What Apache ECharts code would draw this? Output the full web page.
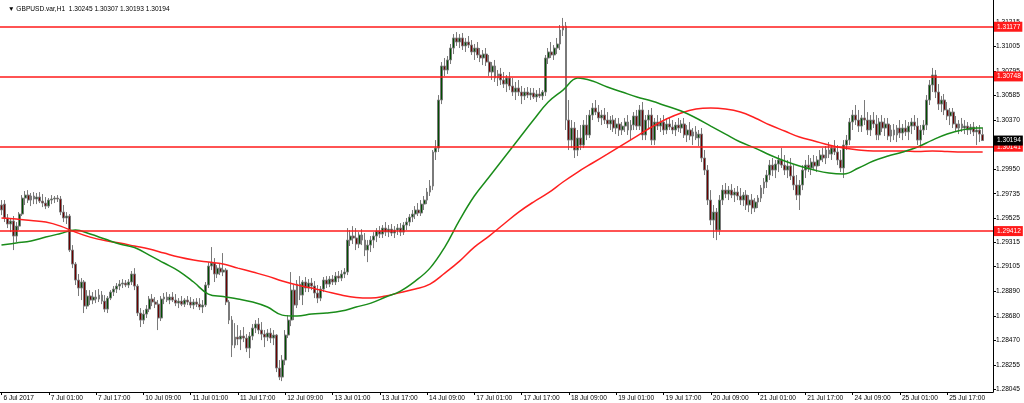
<!DOCTYPE html>
<html><head><meta charset="utf-8">
<script src="https://cdn.jsdelivr.net/npm/echarts@6/dist/echarts.min.js"></script>
<style>html,body{margin:0;padding:0;background:#fff}#c{width:1024px;height:403px}</style>
</head><body><div id="c"></div>
<script>
const chartTitle = '\u25BC GBPUSD.var,H1  1.30245 1.30307 1.30193 1.30194';
const timeLabels = ['6 Jul 2017','7 Jul 01:00','7 Jul 17:00','10 Jul 09:00','11 Jul 01:00','11 Jul 17:00','12 Jul 09:00','13 Jul 01:00','13 Jul 17:00','14 Jul 09:00','17 Jul 01:00','17 Jul 17:00','18 Jul 09:00','19 Jul 01:00','19 Jul 17:00','20 Jul 09:00','21 Jul 01:00','21 Jul 17:00','24 Jul 09:00','25 Jul 01:00','25 Jul 17:00'];
const priceTicks = [1.31215,1.31005,1.30795,1.30585,1.30370,1.30160,1.29950,1.29735,1.29525,1.29315,1.29105,1.28890,1.28680,1.28470,1.28255,1.28045];
const levelLines = [1.31177,1.30748,1.30141,1.29412];
const lastPrice = 1.30194;
// hourly candles [open, high, low, close]
const ohlc = [
[1.29637,1.29680,1.29550,1.29594],[1.29645,1.29680,1.29490,1.29525],[1.29525,1.29559,1.29438,1.29473],[1.29473,1.29525,1.29403,1.29499],[1.29499,1.29542,1.29248,1.29369],
[1.29369,1.29490,1.29317,1.29455],[1.29455,1.29576,1.29421,1.29559],[1.29559,1.29723,1.29542,1.29697],[1.29697,1.29758,1.29637,1.29723],[1.29723,1.29766,1.29654,1.29680],
[1.29680,1.29741,1.29628,1.29715],[1.29715,1.29749,1.29645,1.29689],[1.29689,1.29741,1.29645,1.29706],[1.29706,1.29749,1.29654,1.29671],[1.29671,1.29732,1.29619,1.29654],
[1.29654,1.29706,1.29602,1.29628],[1.29628,1.29697,1.29611,1.29680],[1.29680,1.29723,1.29645,1.29689],[1.29689,1.29715,1.29654,1.29697],[1.29697,1.29723,1.29663,1.29689],
[1.29689,1.29715,1.29550,1.29576],[1.29576,1.29637,1.29490,1.29525],[1.29525,1.29576,1.29473,1.29542],[1.29542,1.29559,1.29231,1.29248],[1.29248,1.29291,1.29092,1.29127],
[1.29127,1.29144,1.28946,1.28989],[1.28989,1.29041,1.28851,1.28920],[1.28920,1.29006,1.28816,1.28972],[1.28972,1.28989,1.28704,1.28764],[1.28764,1.28902,1.28738,1.28851],
[1.28851,1.28902,1.28773,1.28816],[1.28816,1.28885,1.28781,1.28842],[1.28842,1.28902,1.28790,1.28825],[1.28825,1.28911,1.28799,1.28859],[1.28859,1.28894,1.28781,1.28807],
[1.28807,1.28859,1.28712,1.28738],[1.28738,1.28851,1.28704,1.28833],[1.28833,1.28902,1.28816,1.28885],[1.28885,1.28937,1.28851,1.28911],[1.28911,1.28963,1.28877,1.28937],
[1.28937,1.28989,1.28902,1.28954],[1.28954,1.28997,1.28920,1.28963],[1.28963,1.28989,1.28928,1.28946],[1.28946,1.28997,1.28920,1.28972],[1.28972,1.29067,1.28946,1.29041],
[1.29041,1.29092,1.28902,1.28937],[1.28937,1.28954,1.28678,1.28704],[1.28704,1.28747,1.28583,1.28643],[1.28643,1.28730,1.28609,1.28695],[1.28695,1.28773,1.28661,1.28738],
[1.28738,1.28851,1.28712,1.28825],[1.28825,1.28868,1.28764,1.28799],[1.28799,1.28842,1.28747,1.28781],[1.28781,1.28816,1.28557,1.28661],[1.28661,1.28851,1.28635,1.28825],
[1.28825,1.28877,1.28781,1.28842],[1.28842,1.28885,1.28799,1.28816],[1.28816,1.28868,1.28781,1.28842],[1.28842,1.28885,1.28799,1.28816],[1.28816,1.28868,1.28764,1.28790],
[1.28790,1.28833,1.28747,1.28807],[1.28807,1.28851,1.28764,1.28781],[1.28781,1.28833,1.28756,1.28816],[1.28816,1.28851,1.28773,1.28799],[1.28799,1.28842,1.28747,1.28773],
[1.28773,1.28825,1.28738,1.28799],[1.28799,1.28833,1.28756,1.28781],[1.28781,1.28833,1.28730,1.28756],[1.28756,1.28816,1.28704,1.28773],[1.28773,1.28972,1.28756,1.28946],
[1.28946,1.29144,1.28920,1.29110],[1.29110,1.29274,1.29075,1.29136],[1.29136,1.29179,1.28972,1.29041],[1.29041,1.29118,1.29006,1.29092],[1.29092,1.29136,1.29032,1.29058],
[1.29058,1.29222,1.29023,1.29075],[1.29075,1.29092,1.28773,1.28799],[1.28799,1.28816,1.28609,1.28643],[1.28643,1.28678,1.28324,1.28427],[1.28427,1.28617,1.28401,1.28496],
[1.28496,1.28600,1.28427,1.28479],[1.28479,1.28557,1.28384,1.28505],[1.28505,1.28583,1.28453,1.28488],[1.28488,1.28522,1.28367,1.28401],[1.28401,1.28540,1.28315,1.28505],
[1.28505,1.28609,1.28470,1.28574],[1.28574,1.28643,1.28531,1.28609],[1.28609,1.28661,1.28522,1.28557],[1.28557,1.28626,1.28470,1.28522],[1.28522,1.28557,1.28410,1.28496],
[1.28496,1.28565,1.28462,1.28531],[1.28531,1.28574,1.28445,1.28488],[1.28488,1.28557,1.28427,1.28514],[1.28514,1.28522,1.28194,1.28229],[1.28229,1.28298,1.28125,1.28151],
[1.28151,1.28341,1.28116,1.28298],[1.28298,1.28557,1.28254,1.28514],[1.28514,1.28686,1.28488,1.28643],[1.28643,1.29058,1.28591,1.28902],[1.28902,1.28946,1.28643,1.28773],
[1.28773,1.28989,1.28747,1.28954],[1.28954,1.29023,1.28816,1.28859],[1.28859,1.28989,1.28773,1.28972],[1.28972,1.29015,1.28885,1.28920],[1.28920,1.28997,1.28885,1.28963],
[1.28963,1.29006,1.28902,1.28937],[1.28937,1.28980,1.28833,1.28877],[1.28877,1.28946,1.28790,1.28833],[1.28833,1.28937,1.28807,1.28911],[1.28911,1.29015,1.28885,1.28989],
[1.28989,1.29023,1.28920,1.28954],[1.28954,1.29023,1.28928,1.28997],[1.28997,1.29032,1.28946,1.28972],[1.28972,1.29058,1.28946,1.29023],[1.29023,1.29067,1.28972,1.29006],
[1.29006,1.29075,1.28980,1.29041],[1.29041,1.29092,1.29006,1.29058],[1.29058,1.29438,1.29032,1.29334],[1.29334,1.29421,1.29283,1.29369],[1.29369,1.29455,1.29300,1.29352],
[1.29352,1.29438,1.29248,1.29300],[1.29300,1.29403,1.29265,1.29378],[1.29378,1.29429,1.29291,1.29334],[1.29334,1.29395,1.29196,1.29248],[1.29248,1.29334,1.29144,1.29291],
[1.29291,1.29369,1.29231,1.29334],[1.29334,1.29403,1.29265,1.29369],[1.29369,1.29438,1.29317,1.29412],[1.29412,1.29455,1.29352,1.29386],[1.29386,1.29464,1.29352,1.29438],
[1.29438,1.29490,1.29369,1.29403],[1.29403,1.29464,1.29360,1.29429],[1.29429,1.29473,1.29369,1.29395],[1.29395,1.29455,1.29352,1.29421],[1.29421,1.29473,1.29378,1.29438],
[1.29438,1.29481,1.29369,1.29403],[1.29403,1.29490,1.29378,1.29464],[1.29464,1.29525,1.29421,1.29490],[1.29490,1.29559,1.29455,1.29533],[1.29533,1.29594,1.29490,1.29559],
[1.29559,1.29628,1.29516,1.29594],[1.29594,1.29654,1.29542,1.29568],[1.29568,1.29680,1.29542,1.29645],[1.29645,1.29715,1.29594,1.29680],[1.29680,1.29784,1.29645,1.29749],
[1.29749,1.29853,1.29715,1.29801],[1.29801,1.30112,1.29766,1.30095],[1.30095,1.30198,1.30026,1.30129],[1.30129,1.30587,1.30095,1.30544],[1.30544,1.30872,1.30509,1.30838],
[1.30838,1.30907,1.30751,1.30803],[1.30803,1.30924,1.30769,1.30890],[1.30890,1.31028,1.30855,1.30993],[1.30993,1.31114,1.30941,1.31080],[1.31080,1.31131,1.31011,1.31045],
[1.31045,1.31114,1.30993,1.31080],[1.31080,1.31123,1.30976,1.31011],[1.31011,1.31080,1.30959,1.31045],[1.31045,1.31097,1.30993,1.31019],[1.31019,1.31062,1.30933,1.30959],
[1.30959,1.31028,1.30890,1.30993],[1.30993,1.31045,1.30907,1.30933],[1.30933,1.30993,1.30872,1.30907],[1.30907,1.30976,1.30846,1.30941],[1.30941,1.30993,1.30838,1.30872],
[1.30872,1.30933,1.30751,1.30786],[1.30786,1.30872,1.30717,1.30838],[1.30838,1.30890,1.30700,1.30734],[1.30734,1.30803,1.30665,1.30769],[1.30769,1.30821,1.30674,1.30717],
[1.30717,1.30786,1.30648,1.30682],[1.30682,1.30760,1.30613,1.30734],[1.30734,1.30786,1.30630,1.30665],[1.30665,1.30734,1.30579,1.30613],[1.30613,1.30700,1.30544,1.30648],
[1.30648,1.30717,1.30579,1.30613],[1.30613,1.30665,1.30509,1.30579],[1.30579,1.30648,1.30544,1.30613],[1.30613,1.30656,1.30561,1.30587],[1.30587,1.30648,1.30544,1.30605],
[1.30605,1.30648,1.30553,1.30570],[1.30570,1.30630,1.30527,1.30596],[1.30596,1.30648,1.30561,1.30579],[1.30579,1.30630,1.30544,1.30613],[1.30613,1.30933,1.30579,1.30907],
[1.30907,1.30993,1.30855,1.30959],[1.30959,1.31045,1.30907,1.30933],[1.30933,1.31019,1.30890,1.30993],[1.30993,1.31080,1.30941,1.31028],[1.31028,1.31192,1.30976,1.31149],
[1.31149,1.31253,1.31097,1.31183],[1.31183,1.31218,1.30285,1.30371],[1.30371,1.30544,1.30112,1.30198],[1.30198,1.30371,1.30129,1.30302],[1.30302,1.30354,1.30043,1.30112],
[1.30112,1.30285,1.30060,1.30216],[1.30216,1.30328,1.30112,1.30155],[1.30155,1.30371,1.30129,1.30328],[1.30328,1.30414,1.30198,1.30242],[1.30242,1.30458,1.30216,1.30414],
[1.30414,1.30518,1.30371,1.30475],[1.30475,1.30544,1.30414,1.30440],[1.30440,1.30501,1.30354,1.30389],[1.30389,1.30458,1.30328,1.30414],[1.30414,1.30475,1.30337,1.30371],
[1.30371,1.30440,1.30302,1.30337],[1.30337,1.30406,1.30285,1.30371],[1.30371,1.30414,1.30268,1.30302],[1.30302,1.30389,1.30250,1.30337],[1.30337,1.30389,1.30233,1.30285],
[1.30285,1.30354,1.30242,1.30319],[1.30319,1.30389,1.30268,1.30354],[1.30354,1.30414,1.30242,1.30285],[1.30285,1.30371,1.30198,1.30328],[1.30328,1.30440,1.30285,1.30406],
[1.30406,1.30458,1.30285,1.30319],[1.30319,1.30501,1.30285,1.30458],[1.30458,1.30527,1.30198,1.30242],[1.30242,1.30414,1.30198,1.30371],[1.30371,1.30458,1.30302,1.30414],
[1.30414,1.30475,1.30155,1.30198],[1.30198,1.30389,1.30155,1.30354],[1.30354,1.30414,1.30285,1.30319],[1.30319,1.30389,1.30268,1.30354],[1.30354,1.30414,1.30242,1.30285],
[1.30285,1.30389,1.30250,1.30337],[1.30337,1.30389,1.30285,1.30311],[1.30311,1.30371,1.30250,1.30285],[1.30285,1.30354,1.30233,1.30328],[1.30328,1.30389,1.30268,1.30302],
[1.30302,1.30371,1.30259,1.30337],[1.30337,1.30389,1.30216,1.30242],[1.30242,1.30328,1.30181,1.30285],[1.30285,1.30354,1.30198,1.30233],[1.30233,1.30302,1.30155,1.30268],
[1.30268,1.30319,1.30198,1.30216],[1.30216,1.30285,1.30147,1.30250],[1.30250,1.30302,1.30008,1.30043],[1.30043,1.30112,1.29896,1.29939],[1.29939,1.29982,1.29637,1.29680],
[1.29680,1.29766,1.29464,1.29507],[1.29507,1.29637,1.29352,1.29576],[1.29576,1.29611,1.29334,1.29421],[1.29421,1.29723,1.29378,1.29680],[1.29680,1.29810,1.29637,1.29766],
[1.29766,1.29827,1.29697,1.29732],[1.29732,1.29801,1.29680,1.29766],[1.29766,1.29818,1.29697,1.29723],[1.29723,1.29784,1.29663,1.29749],[1.29749,1.29801,1.29680,1.29715],
[1.29715,1.29784,1.29637,1.29680],[1.29680,1.29749,1.29628,1.29723],[1.29723,1.29766,1.29594,1.29637],[1.29637,1.29723,1.29576,1.29680],[1.29680,1.29732,1.29559,1.29611],
[1.29611,1.29697,1.29576,1.29663],[1.29663,1.29723,1.29611,1.29697],[1.29697,1.29810,1.29663,1.29784],[1.29784,1.29870,1.29732,1.29836],[1.29836,1.29939,1.29784,1.29896],
[1.29896,1.30026,1.29853,1.29982],[1.29982,1.30043,1.29887,1.29939],[1.29939,1.30026,1.29870,1.29991],[1.29991,1.30069,1.29922,1.30026],[1.30026,1.30129,1.29957,1.29982],
[1.29982,1.30069,1.29896,1.29939],[1.29939,1.30026,1.29870,1.29974],[1.29974,1.30043,1.29853,1.29887],[1.29887,1.29982,1.29766,1.29810],[1.29810,1.29896,1.29680,1.29723],
[1.29723,1.29853,1.29594,1.29810],[1.29810,1.29982,1.29766,1.29939],[1.29939,1.30026,1.29870,1.29982],[1.29982,1.30069,1.29922,1.29957],[1.29957,1.30043,1.29896,1.30008],
[1.30008,1.30069,1.29939,1.29974],[1.29974,1.30060,1.29922,1.30026],[1.30026,1.30112,1.29974,1.30069],[1.30069,1.30129,1.30008,1.30043],[1.30043,1.30147,1.29991,1.30112],
[1.30112,1.30181,1.30043,1.30077],[1.30077,1.30155,1.30026,1.30129],[1.30129,1.30198,1.30069,1.30095],[1.30095,1.30155,1.29982,1.30026],[1.30026,1.30112,1.29922,1.29957],
[1.29957,1.30198,1.29870,1.30155],[1.30155,1.30242,1.30112,1.30198],[1.30198,1.30389,1.30155,1.30354],[1.30354,1.30458,1.30285,1.30414],[1.30414,1.30501,1.30328,1.30371],
[1.30371,1.30458,1.30268,1.30319],[1.30319,1.30414,1.30268,1.30389],[1.30389,1.30544,1.30328,1.30371],[1.30371,1.30440,1.30242,1.30285],[1.30285,1.30414,1.30233,1.30371],
[1.30371,1.30440,1.30302,1.30337],[1.30337,1.30414,1.30198,1.30242],[1.30242,1.30389,1.30198,1.30354],[1.30354,1.30414,1.30268,1.30302],[1.30302,1.30389,1.30233,1.30337],
[1.30337,1.30389,1.30198,1.30233],[1.30233,1.30328,1.30181,1.30285],[1.30285,1.30337,1.30198,1.30242],[1.30242,1.30328,1.30181,1.30302],[1.30302,1.30371,1.30216,1.30259],
[1.30259,1.30337,1.30198,1.30302],[1.30302,1.30371,1.30233,1.30268],[1.30268,1.30354,1.30198,1.30319],[1.30319,1.30389,1.30250,1.30354],[1.30354,1.30414,1.30285,1.30319],
[1.30319,1.30389,1.30155,1.30198],[1.30198,1.30328,1.30129,1.30285],[1.30285,1.30371,1.30242,1.30328],[1.30328,1.30587,1.30285,1.30544],[1.30544,1.30717,1.30501,1.30674],
[1.30674,1.30821,1.30613,1.30760],[1.30760,1.30803,1.30561,1.30613],[1.30613,1.30682,1.30458,1.30509],[1.30509,1.30579,1.30440,1.30544],[1.30544,1.30596,1.30414,1.30458],
[1.30458,1.30527,1.30371,1.30406],[1.30406,1.30475,1.30328,1.30440],[1.30440,1.30475,1.30302,1.30337],[1.30337,1.30406,1.30268,1.30302],[1.30302,1.30371,1.30250,1.30337],
[1.30337,1.30389,1.30268,1.30302],[1.30302,1.30371,1.30250,1.30319],[1.30319,1.30354,1.30242,1.30285],[1.30285,1.30337,1.30250,1.30311],[1.30311,1.30354,1.30233,1.30268],
[1.30268,1.30319,1.30155,1.30285],[1.30285,1.30328,1.30181,1.30250],[1.30245,1.30307,1.30193,1.30194]
];
// moving averages read at every 5th bar: [bar index, value]
const maFast = [[0,1.29291],[5,1.29309],[10,1.29326],[15,1.29360],[20,1.29391],[25,1.29421],[30,1.29386],[35,1.29343],[40,1.29300],[45,1.29270],[50,1.29205],[55,1.29136],[60,1.29067],[65,1.28972],[70,1.28868],[75,1.28846],[80,1.28825],[85,1.28799],[90,1.28756],[95,1.28686],[100,1.28678],[105,1.28695],[110,1.28704],[115,1.28721],[120,1.28756],[125,1.28790],[130,1.28842],[135,1.28894],[140,1.28980],[145,1.29092],[150,1.29274],[155,1.29507],[160,1.29715],[165,1.29879],[170,1.30043],[175,1.30207],[180,1.30371],[185,1.30527],[190,1.30630],[195,1.30734],[200,1.30708],[205,1.30656],[210,1.30613],[215,1.30570],[220,1.30535],[225,1.30492],[230,1.30449],[235,1.30389],[240,1.30319],[245,1.30250],[250,1.30181],[255,1.30129],[260,1.30069],[265,1.30017],[270,1.29974],[275,1.29939],[280,1.29913],[285,1.29905],[290,1.29957],[295,1.30017],[300,1.30060],[305,1.30095],[310,1.30138],[315,1.30198],[320,1.30250],[325,1.30285],[330,1.30302],[332,1.30302]];
const maSlow = [[0,1.29525],[5,1.29516],[10,1.29503],[15,1.29490],[20,1.29455],[25,1.29403],[30,1.29360],[35,1.29330],[40,1.29309],[45,1.29283],[50,1.29257],[55,1.29222],[60,1.29188],[65,1.29162],[70,1.29144],[75,1.29127],[80,1.29092],[85,1.29058],[90,1.29023],[95,1.28980],[100,1.28946],[105,1.28920],[110,1.28889],[115,1.28859],[120,1.28838],[125,1.28833],[130,1.28851],[135,1.28881],[140,1.28911],[145,1.28954],[150,1.29049],[155,1.29153],[160,1.29274],[165,1.29369],[170,1.29473],[175,1.29576],[180,1.29663],[185,1.29741],[190,1.29836],[195,1.29922],[200,1.30000],[205,1.30077],[210,1.30155],[215,1.30233],[220,1.30311],[225,1.30380],[230,1.30432],[235,1.30466],[240,1.30475],[245,1.30466],[250,1.30440],[255,1.30389],[260,1.30328],[265,1.30276],[270,1.30224],[275,1.30190],[280,1.30155],[285,1.30129],[290,1.30112],[295,1.30103],[300,1.30103],[305,1.30103],[310,1.30099],[315,1.30103],[320,1.30099],[325,1.30095],[330,1.30095],[332,1.30095]];

const BARS_PER_LABEL = 16;
const N_SLOTS = 336;
const slots = [];
for (let i = 0; i < N_SLOTS; i++) slots.push(String(i));
const candleData = ohlc.map(d => [d[0], d[3], d[2], d[1]]);
const showIdx = (idx) => idx % BARS_PER_LABEL === 0 && idx / BARS_PER_LABEL < timeLabels.length;
const FONT = 'Liberation Sans';
const FS = 6.6;

const markData = levelLines.map(v => ({
  yAxis: v,
  lineStyle: { color: '#ff1a1a', width: 1.5, type: 'solid' },
  label: { backgroundColor: '#ff1a1a', color: '#ffffff' }
}));
markData.push({
  yAxis: lastPrice,
  lineStyle: { color: 'rgba(0,0,0,0)', width: 0 },
  label: { backgroundColor: '#000000', color: '#ffffff', opacity: 1 }
});

const chart = echarts.init(document.getElementById('c'), null, { renderer: 'canvas' });
chart.setOption({
  animation: false,
  backgroundColor: '#ffffff',
  title: {
    text: chartTitle, left: 3, top: 1,
    textStyle: { fontSize: FS, fontWeight: 'normal', color: '#000', fontFamily: FONT }
  },
  grid: { left: -4, right: 31, top: 0, bottom: 11 },
  xAxis: {
    type: 'category', data: slots, boundaryGap: true,
    axisLine: { show: true, lineStyle: { color: '#000', width: 1 } },
    axisTick: { show: true, alignWithLabel: true, interval: (i) => showIdx(i), length: 3, lineStyle: { color: '#000' } },
    axisLabel: {
      interval: (i) => showIdx(i), align: 'left', margin: 3, padding: [0, 0, 0, 2],
      formatter: (v, i) => timeLabels[Math.round(i / BARS_PER_LABEL)] || '',
      fontSize: FS, color: '#000', fontFamily: FONT, hideOverlap: false
    },
    splitLine: { show: false }
  },
  yAxis: {
    type: 'value', position: 'right', min: 1.28022, max: 1.31408, scale: true,
    axisLine: { show: true, lineStyle: { color: '#000', width: 1 } },
    axisTick: { show: true, customValues: priceTicks, length: 3, lineStyle: { color: '#000' } },
    axisLabel: { customValues: priceTicks, formatter: (v) => v.toFixed(5), margin: 3, fontSize: FS, color: '#000', fontFamily: FONT },
    splitLine: { show: false }
  },
  series: [
    {
      type: 'candlestick', data: candleData, barWidth: 2.4,
      itemStyle: { color: '#004d00', color0: '#6b0000', borderColor: '#7a7a7a', borderColor0: '#7a7a7a', borderWidth: 1 }
    },
    {
      type: 'line', data: maSlow, smooth: 0.4, showSymbol: false, silent: true,
      lineStyle: { color: '#ff2020', width: 1.5 }, z: 3
    },
    {
      type: 'line', data: maFast, smooth: 0.4, showSymbol: false, silent: true,
      lineStyle: { color: '#1a8c1a', width: 1.5 }, z: 3,
      markLine: {
        silent: true, symbol: 'none', animation: false, precision: 5,
        label: { show: true, position: 'end', distance: 1, formatter: (p) => Number(p.value).toFixed(5), fontSize: FS, fontFamily: FONT, padding: [2, 2, 1, 3] },
        data: markData
      }
    }
  ]
});
</script>
</body></html>
